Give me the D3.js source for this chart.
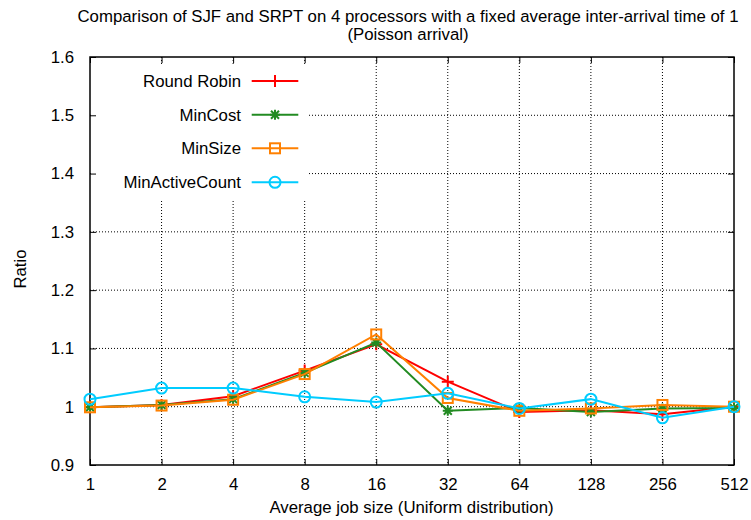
<!DOCTYPE html>
<html lang="en">

<head>
  <meta charset="UTF-8">
  <title>SJF vs SRPT</title>
  <style>
    body {
      margin: 0;
      background: #fff;
    }

    text {
      font-family: "Liberation Sans", Arial, sans-serif;
      font-size: 16.8px;
      fill: #000;
    }

    .grid line {
      stroke: #000;
      stroke-width: 1;
      stroke-dasharray: 1 2;
    }
  </style>
</head>

<body>
  <div id="wrapper"></div>
  <script src="https://cdn.jsdelivr.net/npm/d3@7"></script>
  <script>
    // data
    const jobSizes = [1, 2, 4, 8, 16, 32, 64, 128, 256, 512];
    const yTicks = [0.9, 1, 1.1, 1.2, 1.3, 1.4, 1.5, 1.6];

    const roundRobin = [0.999, 1.003, 1.018, 1.062, 1.107, 1.043, 0.991, 0.994, 0.987, 1.0];
    const minCost = [0.999, 1.003, 1.013, 1.058, 1.110, 0.993, 0.998, 0.991, 0.997, 0.998];
    const minSize = [0.999, 1.002, 1.012, 1.056, 1.124, 1.015, 0.993, 0.997, 1.003, 1.0];
    const minActiveCount = [1.013, 1.032, 1.032, 1.017, 1.008, 1.023, 0.997, 1.013, 0.981, 1.0];

    const seriesNames = ["Round Robin", "MinCost", "MinSize", "MinActiveCount"];
    const seriesValues = [roundRobin, minCost, minSize, minActiveCount];
    const seriesColors = ["#ff0000", "#228b22", "#ff8000", "#00ccff"];
    const seriesMarkers = ["plus", "star", "square", "circle"];

    //#region Dimensions
    let dimensions = {
      width: 751,
      height: 520,
      margin: { top: 57, right: 17, bottom: 55, left: 90 },
    };
    dimensions.boundedWidth = dimensions.width - dimensions.margin.left - dimensions.margin.right;
    dimensions.boundedHeight = dimensions.height - dimensions.margin.top - dimensions.margin.bottom;
    //#endregion

    const svg = d3.select("#wrapper")
      .append("svg")
      .attr("width", dimensions.width)
      .attr("height", dimensions.height);

    const bounds = svg.append("g")
      .attr("transform", `translate(${dimensions.margin.left},${dimensions.margin.top})`);

    //#region Scales
    const xScale = d3.scaleLog()
      .base(2)
      .domain([1, 512])
      .range([0, dimensions.boundedWidth]);

    const yScale = d3.scaleLinear()
      .domain([0.9, 1.6])
      .range([dimensions.boundedHeight, 0]);
    //#endregion

    //#region Grid
    const grid = bounds.append("g").attr("class", "grid");
    grid.selectAll(".gx")
      .data(jobSizes.slice(1, -1))
      .join("line")
      .attr("x1", d => xScale(d))
      .attr("x2", d => xScale(d))
      .attr("y1", 0)
      .attr("y2", dimensions.boundedHeight);
    grid.selectAll(".gy")
      .data(yTicks.slice(1, -1))
      .join("line")
      .attr("class", "gy")
      .attr("x1", 0)
      .attr("x2", dimensions.boundedWidth)
      .attr("y1", d => yScale(d))
      .attr("y2", d => yScale(d));
    //#endregion

    // legend box hides the grid behind it
    const legend = bounds.append("g");
    legend.append("rect")
      .attr("x", 1)
      .attr("y", 7)
      .attr("width", 217)
      .attr("height", 135)
      .attr("fill", "#fff");

    //#region Axes
    const tickLen = 6;
    const xAxis = bounds.append("g")
      .attr("transform", `translate(0,${dimensions.boundedHeight})`)
      .call(d3.axisBottom(xScale).tickValues(jobSizes).tickFormat(d3.format("d")).tickSize(-tickLen).tickPadding(13));
    const xAxisTop = bounds.append("g")
      .call(d3.axisTop(xScale).tickValues(jobSizes).tickFormat("").tickSize(-tickLen));
    const yAxis = bounds.append("g")
      .call(d3.axisLeft(yScale).tickValues(yTicks).tickFormat(d => d3.format("")(+d.toFixed(1))).tickSize(-tickLen).tickPadding(16));
    const yAxisRight = bounds.append("g")
      .attr("transform", `translate(${dimensions.boundedWidth},0)`)
      .call(d3.axisRight(yScale).tickValues(yTicks).tickFormat("").tickSize(-tickLen));

    [xAxis, xAxisTop, yAxis, yAxisRight].forEach(a => {
      a.select(".domain").remove();
      a.selectAll(".tick line").attr("stroke", "#000");
      a.selectAll(".tick text").style("font-size", "16.8px").style("font-family", "'Liberation Sans', Arial, sans-serif").attr("fill", "#000");
    });

    bounds.append("rect")
      .attr("width", dimensions.boundedWidth)
      .attr("height", dimensions.boundedHeight)
      .attr("fill", "none")
      .attr("stroke", "#000")
      .attr("stroke-width", 1.5);
    //#endregion

    //#region Markers
    function drawMarker(g, type, color) {
      if (type === "plus") {
        g.append("path").attr("d", "M-6,0H6M0,-6V6")
          .attr("stroke", color).attr("stroke-width", 2).attr("fill", "none");
      } else if (type === "star") {
        g.append("path").attr("d", "M-5,0H5M0,-5V5M-4,-4L4,4M-4,4L4,-4")
          .attr("stroke", color).attr("stroke-width", 2).attr("fill", "none");
      } else if (type === "square") {
        g.append("rect").attr("x", -5).attr("y", -5).attr("width", 10).attr("height", 10)
          .attr("stroke", color).attr("stroke-width", 2).attr("fill", "none");
      } else {
        g.append("circle").attr("r", 5.5)
          .attr("stroke", color).attr("stroke-width", 2).attr("fill", "none");
      }
    }
    //#endregion

    //#region Lines
    const lineGenerator = d3.line()
      .x((d, i) => xScale(jobSizes[i]))
      .y(d => yScale(d));

    seriesValues.forEach((values, s) => {
      const g = bounds.append("g");
      g.append("path")
        .attr("d", lineGenerator(values))
        .attr("fill", "none")
        .attr("stroke", seriesColors[s])
        .attr("stroke-width", 2);
      values.forEach((v, i) => {
        const m = g.append("g")
          .attr("transform", `translate(${xScale(jobSizes[i])},${yScale(v)})`);
        drawMarker(m, seriesMarkers[s], seriesColors[s]);
      });
    });
    //#endregion

    //#region Legend
    const legendRowY = [24, 57.7, 91.3, 125.3];
    seriesNames.forEach((name, s) => {
      const row = legend.append("g").attr("transform", `translate(0,${legendRowY[s]})`);
      row.append("text")
        .attr("x", 151)
        .attr("y", 6)
        .attr("text-anchor", "end")
        .text(name);
      row.append("line")
        .attr("x1", 161.7).attr("x2", 208.3)
        .attr("stroke", seriesColors[s])
        .attr("stroke-width", 2);
      const m = row.append("g").attr("transform", "translate(185,0)");
      drawMarker(m, seriesMarkers[s], seriesColors[s]);
    });
    //#endregion

    //#region Titles
    svg.append("text")
      .attr("x", 408)
      .attr("y", 22)
      .attr("text-anchor", "middle")
      .text("Comparison of SJF and SRPT on 4 processors with a fixed average inter-arrival time of 1");
    svg.append("text")
      .attr("x", 408)
      .attr("y", 40)
      .attr("text-anchor", "middle")
      .text("(Poisson arrival)");
    svg.append("text")
      .attr("transform", "translate(26,269) rotate(-90)")
      .attr("text-anchor", "middle")
      .text("Ratio");
    svg.append("text")
      .attr("x", 411.5)
      .attr("y", 513)
      .attr("text-anchor", "middle")
      .text("Average job size (Uniform distribution)");
    //#endregion
  </script>
</body>

</html>
